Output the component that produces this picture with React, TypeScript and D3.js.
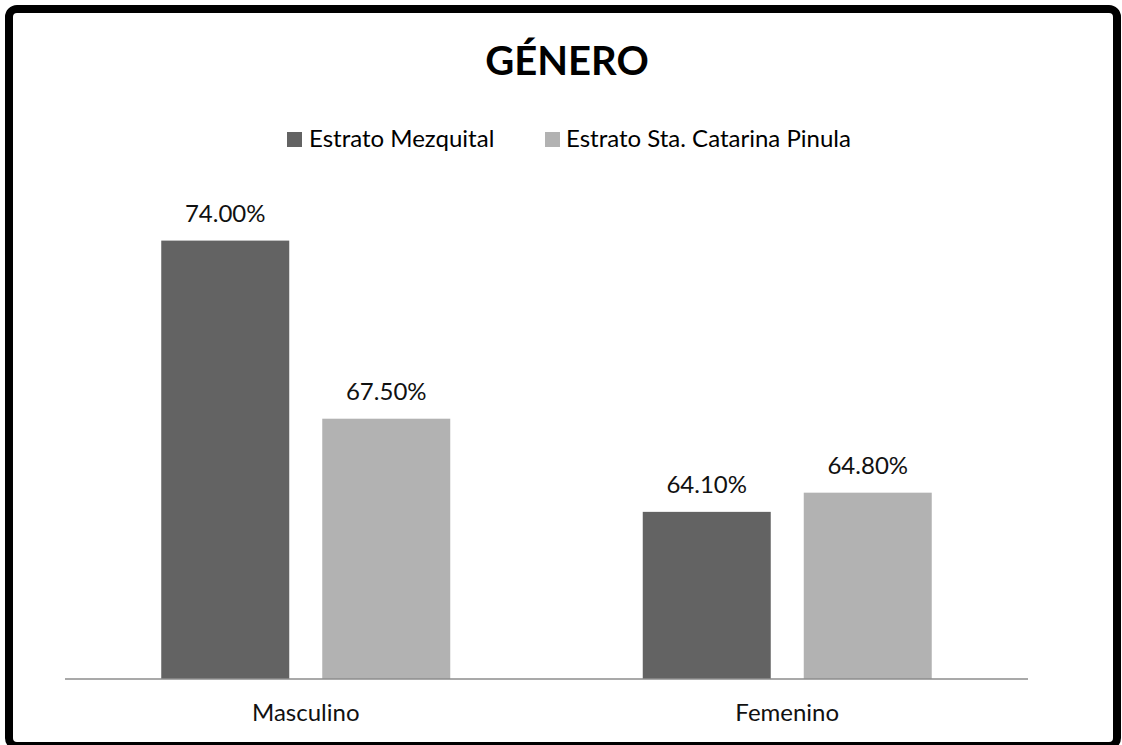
import React from "react";
import * as d3 from "d3";

const title = "GÉNERO";
const categories = ["Masculino", "Femenino"];
const seriesNames = ["Estrato Mezquital", "Estrato Sta. Catarina Pinula"];
const mezquital = [74.0, 64.1];
const pinula = [67.5, 64.8];
const seriesColors = ["#636363", "#b2b2b2"];

const W = 1122;
const H = 745;
const FONT = "Lato, 'Open Sans', sans-serif";

export default function App() {
  const plotLeft = 65;
  const plotRight = 1028;
  const baseY = 679;

  const x0 = d3.scaleBand<string>().domain(categories).range([plotLeft, plotRight]).paddingInner(0).paddingOuter(0);
  const x1 = d3.scaleBand<string>().domain(seriesNames).range([0, 289]).paddingInner(0.205).paddingOuter(0);
  const y = d3.scaleLinear().domain([58, 76]).range([baseY, baseY - 18 * 27.4]);

  const series = [mezquital, pinula];
  const fmt = (v: number) => v.toFixed(2) + "%";

  const legendItems = [
    { name: seriesNames[0], sx: 287, tx: 309 },
    { name: seriesNames[1], sx: 545, tx: 566 },
  ];

  return (
    <svg width={W} height={H} style={{ position: "absolute", left: 0, top: 0, background: "#fff" }} fontFamily={FONT}>
      <rect x={0} y={0} width={W} height={H} fill="#fff" />
      <rect x={9} y={9} width={1108} height={737} rx={8} ry={8} fill="none" stroke="#000" strokeWidth={8} />
      <text x={567} y={75} textAnchor="middle" fontSize={40} fontWeight={700} fill="#000">{title}</text>
      {legendItems.map((l, i) => (
        <g key={l.name}>
          <rect x={l.sx} y={132} width={15} height={15} fill={seriesColors[i]} />
          <text x={l.tx} y={147} fontSize={24} fill="#000">{l.name}</text>
        </g>
      ))}
      {categories.map((c, ci) => {
        const gx = (x0(c) as number) + x0.bandwidth() / 2 - 144.5;
        return (
          <g key={c}>
            {seriesNames.map((s, si) => {
              const v = series[si][ci];
              const bx = gx + (x1(s) as number);
              const bw = x1.bandwidth();
              return (
                <g key={s}>
                  <rect x={bx} y={y(v)} width={bw} height={baseY - y(v)} fill={seriesColors[si]} />
                  <text x={bx + bw / 2} y={y(v) - 19} textAnchor="middle" fontSize={24} fill="#111">{fmt(v)}</text>
                </g>
              );
            })}
            <text x={(x0(c) as number) + x0.bandwidth() / 2} y={721} textAnchor="middle" fontSize={24} fill="#111">{c}</text>
          </g>
        );
      })}
      <line x1={plotLeft} x2={plotRight} y1={baseY} y2={baseY} stroke="#8c8c8c" strokeWidth={1.5} />
    </svg>
  );
}
